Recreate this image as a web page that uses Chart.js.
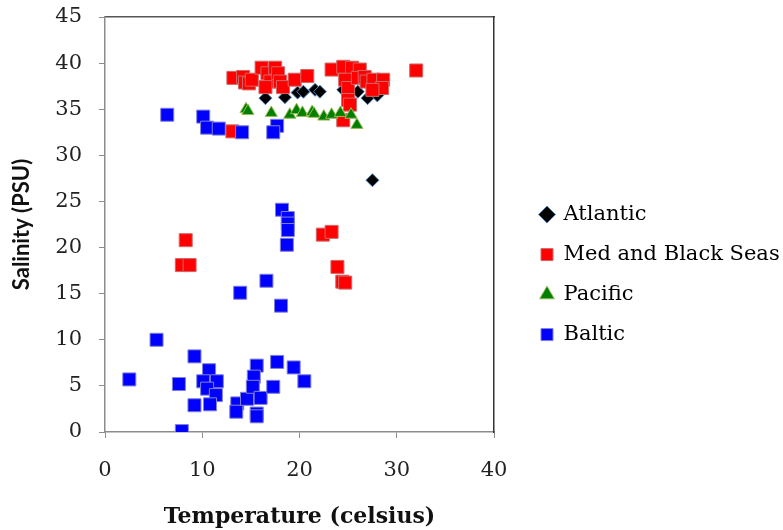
<!DOCTYPE html>
<html>
<head>
<meta charset="utf-8">
<title>Temperature vs salinity</title>
<script src="https://cdn.jsdelivr.net/npm/chart.js@4.4.1/dist/chart.umd.min.js"></script>
<style>
  html, body { margin: 0; padding: 0; background: #fff; }
  #wrap { width: 783px; height: 530px; }
</style>
</head>
<body>
<div id="wrap"><canvas id="tsChart" width="783" height="530"></canvas></div>
<script>
// Tick labels
const xTicks = [0, 10, 20, 30, 40];
const yTicks = [0, 5, 10, 15, 20, 25, 30, 35, 40, 45];

// Atlantic
const atlanticTemp = [16.5, 18.5, 19.8, 20.4, 21.6, 22.1, 24.5, 25.2, 26.0, 27.0, 28.0, 27.5];
const atlanticSal  = [36.2, 36.3, 36.8, 36.9, 37.1, 36.9, 37.1, 37.0, 36.9, 36.2, 36.5, 27.3];

// Med and Black Seas
const medTemp = [13.2, 14.2, 14.4, 14.8, 15.1, 16.1, 16.7, 17.0, 17.5, 17.8, 18.0, 16.5, 18.3, 19.5, 20.8,
                 23.3, 24.5, 25.4, 26.2, 24.7, 25.0, 26.0, 26.7, 26.9, 27.6, 28.6, 28.5, 27.5, 25.0, 25.2,
                 32.0, 24.5, 13.1, 8.3, 7.9, 8.7, 22.4, 23.3, 23.9, 24.4, 24.7];
const medSal  = [38.4, 38.5, 37.9, 37.8, 38.2, 39.5, 38.9, 38.0, 39.5, 38.9, 38.0, 37.4, 37.4, 38.2, 38.6,
                 39.3, 39.6, 39.5, 39.3, 38.2, 37.3, 38.4, 38.5, 38.0, 38.2, 38.2, 37.3, 37.1, 36.0, 35.5,
                 39.2, 33.8, 32.6, 20.8, 18.1, 18.1, 21.4, 21.7, 17.9, 16.3, 16.2];

// Pacific
const pacificTemp = [14.5, 14.7, 17.1, 19.0, 19.7, 20.3, 21.3, 21.5, 22.5, 23.3, 24.2, 25.3, 25.9];
const pacificSal  = [35.0, 34.8, 34.6, 34.4, 34.9, 34.6, 34.7, 34.5, 34.2, 34.4, 34.6, 34.4, 33.3];

// Baltic
const balticTemp = [6.4, 10.1, 10.5, 11.7, 14.1, 17.7, 17.3,
                    18.2, 18.8, 18.8, 18.8, 18.7, 16.6, 13.9, 18.1,
                    5.3, 9.2, 10.7, 2.5, 7.6, 10.1, 11.5, 10.5, 11.4, 9.2, 10.8, 13.6, 13.5, 14.6,
                    15.6, 15.3, 15.2, 16.0, 15.6, 15.6, 17.3, 17.7, 19.4, 20.5, 7.9];
const balticSal  = [34.4, 34.2, 33.0, 32.9, 32.5, 33.2, 32.5,
                    24.1, 23.2, 22.6, 21.9, 20.3, 16.4, 15.1, 13.7,
                    10.0, 8.2, 6.7, 5.7, 5.2, 5.5, 5.5, 4.7, 4.0, 2.9, 3.0, 3.1, 2.2, 3.6,
                    7.2, 6.0, 4.9, 3.7, 2.0, 1.7, 4.9, 7.6, 7.0, 5.5, 0.1];

function toPoints(xs, ys) {
    return xs.map((x, i) => ({ x: x, y: ys[i] }));
}

const serif = "'DejaVu Serif', 'Liberation Serif', serif";

// Function to build the scatter chart
function createSalinityChart() {
    const ctx = document.getElementById('tsChart').getContext('2d');
    new Chart(ctx, {
        type: 'scatter',
        data: {
            datasets: [
                {
                    label: 'Atlantic',
                    data: toPoints(atlanticTemp, atlanticSal),
                    pointStyle: 'rectRot',
                    pointRadius: 6.5,
                    backgroundColor: '#000000',
                    borderColor: '#4F81BD',
                    borderWidth: 1,
                    order: 4
                },
                {
                    label: 'Med and Black Seas',
                    data: toPoints(medTemp, medSal),
                    pointStyle: 'rect',
                    pointRadius: 9.2,
                    backgroundColor: '#FF0000',
                    borderColor: '#D06868',
                    borderWidth: 1,
                    order: 3
                },
                {
                    label: 'Pacific',
                    data: toPoints(pacificTemp, pacificSal),
                    pointStyle: 'triangle',
                    pointRadius: 7,
                    backgroundColor: '#008000',
                    borderColor: '#9BBB59',
                    borderWidth: 1,
                    order: 2
                },
                {
                    label: 'Baltic',
                    data: toPoints(balticTemp, balticSal),
                    pointStyle: 'rect',
                    pointRadius: 9.2,
                    backgroundColor: '#0000FF',
                    borderColor: '#8080D8',
                    borderWidth: 1,
                    order: 1
                }
            ]
        },
        options: {
            responsive: false,
            animation: false,
            layout: { padding: 0 },
            plugins: {
                tooltip: { enabled: false },
                legend: {
                    position: 'right',
                    align: 'center',
                    maxWidth: 261,
                    title: { display: true, text: ' ', padding: 0, font: { size: 16 } },
                    labels: {
                        usePointStyle: true,
                        boxWidth: 12,
                        boxHeight: 12,
                        padding: 19,
                        color: '#000',
                        font: { family: serif, size: 21 },
                        sort: (a, b) => a.datasetIndex - b.datasetIndex
                    }
                }
            },
            scales: {
                x: {
                    type: 'linear',
                    position: 'bottom',
                    min: 0,
                    max: 40,
                    afterBuildTicks: s => { s.ticks = xTicks.map(v => ({ value: v })); },
                    afterFit: s => { s.height = 98; s.paddingLeft = 0; s.paddingRight = 0; },
                    grid: { drawOnChartArea: false, drawTicks: true, tickLength: 6, color: '#8c8c8c' },
                    border: { color: '#8c8c8c', width: 1.5 },
                    ticks: { color: '#222', padding: 20, font: { family: serif, size: 21 } },
                    title: {
                        display: true,
                        text: 'Temperature (celsius)',
                        color: '#111',
                        padding: { top: 4, bottom: 0 },
                        font: { family: serif, size: 22, weight: 'bold' }
                    }
                },
                x2: {
                    type: 'linear',
                    position: 'top',
                    afterFit: s => { s.height = 17; },
                    grid: { display: false },
                    ticks: { display: false },
                    border: { display: true, color: '#555', width: 1.5 }
                },
                y: {
                    type: 'linear',
                    position: 'left',
                    min: 0,
                    max: 45,
                    afterBuildTicks: s => { s.ticks = yTicks.map(v => ({ value: v })); },
                    afterFit: s => { s.width = 105; s.paddingTop = 0; s.paddingBottom = 0; },
                    grid: { drawOnChartArea: false, drawTicks: true, tickLength: 6, color: '#8c8c8c' },
                    border: { color: '#8c8c8c', width: 1.5 },
                    ticks: { color: '#222', padding: 17, font: { family: serif, size: 21 } },
                    title: {
                        display: true,
                        text: 'Salinity (PSU)',
                        color: '#111',
                        padding: { top: 9, bottom: 0 },
                        font: { family: "Lato, 'Open Sans', sans-serif", size: 22, weight: 'bold' }
                    }
                },
                y2: {
                    type: 'linear',
                    position: 'right',
                    afterFit: s => { s.width = 28; },
                    grid: { display: false },
                    ticks: { display: false },
                    border: { display: true, color: '#333', width: 1.5 }
                }
            }
        }
    });
}

createSalinityChart();
</script>
</body>
</html>
